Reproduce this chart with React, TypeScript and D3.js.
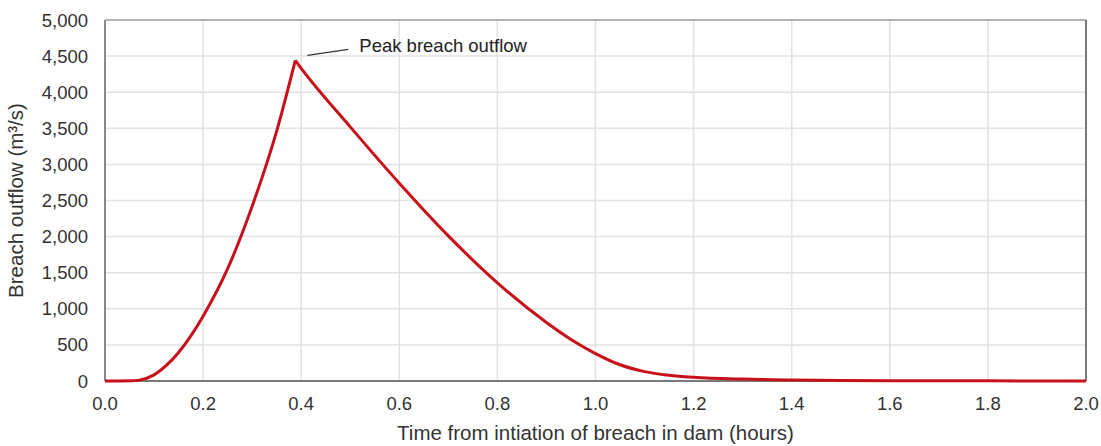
import React from 'react';
import * as d3 from 'd3';

// time since breach began (hours) and outflow (m3/s)
const riseTime = [0, 0.03, 0.055, 0.07, 0.1, 0.125, 0.15, 0.175, 0.2, 0.25, 0.3, 0.35, 0.388];
const riseFlow = [0, 0, 2, 12, 85, 215, 395, 625, 898, 1555, 2420, 3460, 4440];
const fallTime = [0.388, 0.4, 0.5, 0.6, 0.7, 0.8, 0.9, 0.95, 1.0, 1.05, 1.1, 1.15, 1.2, 1.3, 1.4, 1.5, 1.6, 1.8, 2.0];
const fallFlow = [4440, 4330, 3520, 2740, 2010, 1359, 810, 575, 380, 225, 130, 80, 52, 26, 14, 8, 5, 2, 0];

const xTicks = [0, 0.2, 0.4, 0.6, 0.8, 1.0, 1.2, 1.4, 1.6, 1.8, 2.0];
const yTicks = [0, 500, 1000, 1500, 2000, 2500, 3000, 3500, 4000, 4500, 5000];

const W = 1101, H = 446;
const margin = { left: 105, right: 15, top: 20, bottom: 65 };
const font = '"Liberation Sans", Arial, sans-serif';

const App = () => {
  const ref = React.useRef<SVGSVGElement>(null);

  React.useEffect(() => {
    const svg = d3.select(ref.current);
    svg.selectAll('*').remove();
    const w = W - margin.left - margin.right;
    const h = H - margin.top - margin.bottom;

    const x = d3.scaleLinear().domain([0, 2]).range([margin.left, margin.left + w]);
    const y = d3.scaleLinear().domain([0, 5000]).range([margin.top + h, margin.top]);

    // grid
    svg.append('g').selectAll('line')
      .data(xTicks.slice(1, -1))
      .enter().append('line')
      .attr('x1', d => x(d)).attr('x2', d => x(d))
      .attr('y1', y(0)).attr('y2', y(5000))
      .attr('stroke', '#e2e2e2').attr('stroke-width', 1.5);
    svg.append('g').selectAll('line')
      .data(yTicks.slice(1, -1))
      .enter().append('line')
      .attr('x1', x(0)).attr('x2', x(2))
      .attr('y1', d => y(d)).attr('y2', d => y(d))
      .attr('stroke', '#e2e2e2').attr('stroke-width', 1.5);

    // frame
    svg.append('line').attr('x1', x(0)).attr('x2', x(2)).attr('y1', y(5000)).attr('y2', y(5000))
      .attr('stroke', '#9a9a9a').attr('stroke-width', 1.5);
    svg.append('line').attr('x1', x(2)).attr('x2', x(2)).attr('y1', y(5000)).attr('y2', y(0))
      .attr('stroke', '#7a7a7a').attr('stroke-width', 2);
    svg.append('line').attr('x1', x(0)).attr('x2', x(0)).attr('y1', y(5000)).attr('y2', y(0))
      .attr('stroke', '#8a8a8a').attr('stroke-width', 2);
    svg.append('line').attr('x1', x(0)).attr('x2', x(2)).attr('y1', y(0)).attr('y2', y(0))
      .attr('stroke', '#7a7a7a').attr('stroke-width', 2);

    // tick labels
    const fmt = d3.format(',');
    svg.append('g').selectAll('text')
      .data(yTicks)
      .enter().append('text')
      .attr('x', x(0) - 17).attr('y', d => y(d) + 6.5)
      .attr('text-anchor', 'end')
      .attr('font-family', font).attr('font-size', 18.5).attr('fill', '#333')
      .text(d => fmt(d));
    svg.append('g').selectAll('text')
      .data(xTicks)
      .enter().append('text')
      .attr('x', d => x(d)).attr('y', y(0) + 29)
      .attr('text-anchor', 'middle')
      .attr('font-family', font).attr('font-size', 18.5).attr('fill', '#333')
      .text(d => d.toFixed(1));

    // axis titles
    svg.append('text')
      .attr('x', x(1)).attr('y', 440)
      .attr('text-anchor', 'middle')
      .attr('font-family', font).attr('font-size', 20.5).attr('fill', '#333')
      .text('Time from intiation of breach in dam (hours)');
    svg.append('text')
      .attr('transform', `translate(23,${y(2500)}) rotate(-90)`)
      .attr('text-anchor', 'middle')
      .attr('font-family', font).attr('font-size', 20.5).attr('fill', '#333')
      .text('Breach outflow (m³/s)');

    // outflow curve, two pieces so the peak stays sharp
    const path = d3.line().curve(d3.curveMonotoneX);
    const rise = riseTime.map((t, i) => [x(t), y(riseFlow[i])] as [number, number]);
    const fall = fallTime.map((t, i) => [x(t), y(fallFlow[i])] as [number, number]);
    [rise, fall].forEach(pts => {
      svg.append('path')
        .attr('d', path(pts))
        .attr('fill', 'none')
        .attr('stroke', '#c8101a')
        .attr('stroke-width', 3)
        .attr('stroke-linejoin', 'round');
    });

    // annotation
    const px = x(riseTime[riseTime.length - 1]);
    const py = y(riseFlow[riseFlow.length - 1]);
    svg.append('line')
      .attr('x1', px + 12).attr('y1', py - 5)
      .attr('x2', px + 53).attr('y2', py - 11)
      .attr('stroke', '#333').attr('stroke-width', 1.2);
    svg.append('text')
      .attr('x', px + 64).attr('y', py - 8)
      .attr('font-family', font).attr('font-size', 18.5).attr('fill', '#222')
      .text('Peak breach outflow');
  }, []);

  return (
    <svg ref={ref} width={W} height={H}
      style={{ position: 'absolute', left: 0, top: 0, background: '#fff' }} />
  );
};

export default App;
